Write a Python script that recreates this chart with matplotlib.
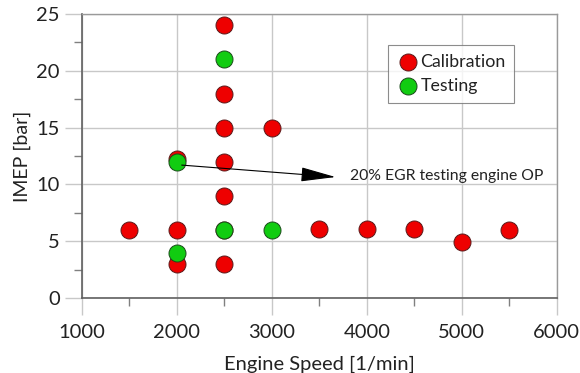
import matplotlib
matplotlib.use("Agg")
import matplotlib.pyplot as plt
from matplotlib.ticker import MultipleLocator

plt.rcParams['font.family'] = ['Lato', 'DejaVu Sans']

# Operating points: engine speed [1/min] and IMEP [bar]
calib_speed = [2000, 1500, 2000, 2000, 2500, 2500, 2500, 2500, 2500, 2500, 2500,
               3000, 3500, 4000, 4500, 5000, 5500]
calib_imep = [12.2, 6.0, 6.0, 3.0, 24.0, 18.0, 15.0, 12.0, 9.0, 6.0, 3.0,
              15.0, 6.05, 6.1, 6.1, 4.9, 5.95]
test_speed = [2500, 2000, 2500, 3000, 2000]
test_imep = [21.0, 11.95, 6.0, 6.0, 3.95]

x_ticks = [1000, 2000, 3000, 4000, 5000, 6000]
y_ticks = [0, 5, 10, 15, 20, 25]

fig = plt.figure(figsize=(5.8, 3.73), dpi=100)
ax = fig.add_axes([0.1414, 0.201, 0.8186, 0.7615])

ax.set_xlim(1000, 6000)
ax.set_ylim(0, 25)
ax.set_xticks(x_ticks)
ax.set_yticks(y_ticks)
ax.xaxis.set_minor_locator(MultipleLocator(500))
ax.yaxis.set_minor_locator(MultipleLocator(2.5))
ax.grid(True, which='major', color='#c8c8c8', linewidth=1.0, zorder=0)
ax.set_axisbelow(True)

ax.tick_params(which='major', direction='out', length=12, width=1.0,
               color='#c8c8c8', labelsize=14.5, labelcolor='#222222')
ax.tick_params(axis='x', which='major', pad=7)
ax.tick_params(axis='y', which='major', pad=4)
ax.tick_params(which='minor', direction='out', length=6, width=1.0, color='#808080')
for s in ['left', 'bottom']:
    ax.spines[s].set_color('#606060')
    ax.spines[s].set_linewidth(1.2)
for s in ['top', 'right']:
    ax.spines[s].set_color('#9a9a9a')
    ax.spines[s].set_linewidth(1.0)

ax.scatter(calib_speed, calib_imep, s=150, c='#ee0000', edgecolors='#5a1a1a',
           linewidths=0.7, zorder=3, label='Calibration')
ax.scatter(test_speed, test_imep, s=150, c='#11cc11', edgecolors='#1a4a1a',
           linewidths=0.7, zorder=4, label='Testing')

ax.annotate('', xy=(3670, 10.65), xytext=(2050, 11.7),
            arrowprops=dict(arrowstyle='-|>,head_length=2.2,head_width=0.45',
                            color='black', lw=0.8, shrinkA=0, shrinkB=0),
            zorder=5)
ax.text(3820, 10.75, '20% EGR testing engine OP', fontsize=11.3,
        color='#222222', va='center', ha='left', zorder=5)

leg = ax.legend(loc='upper left', bbox_to_anchor=(0.645, 0.89), fontsize=12.8,
                frameon=True, fancybox=False, edgecolor='#707070',
                handletextpad=0.1, borderpad=0.5, labelspacing=0.45,
                handlelength=1.2, borderaxespad=0)
leg.get_frame().set_linewidth(0.8)
for t in leg.get_texts():
    t.set_color('#222222')

ax.set_xlabel('Engine Speed [1/min]', fontsize=14.5, color='#222222', labelpad=10)
ax.set_ylabel('IMEP [bar]', fontsize=14, color='#222222', labelpad=4)

fig.savefig('out.png', dpi=100)
